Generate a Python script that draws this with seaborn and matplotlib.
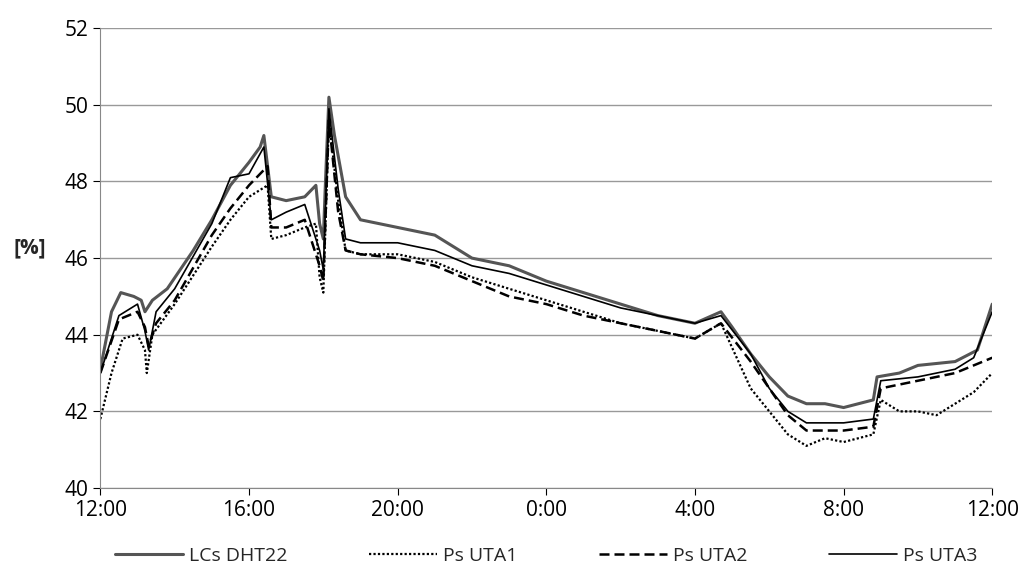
import matplotlib
matplotlib.use("Agg")
import matplotlib.pyplot as plt
import seaborn as sns
import pandas as pd

# hours after 12:00
dht_t = [0, 0.3, 0.55, 0.9, 1.1, 1.2, 1.4, 1.8, 2.5, 3.0, 3.5, 4.0, 4.3, 4.4, 4.6, 5.0, 5.5, 5.8, 5.9, 6.0, 6.05, 6.15, 6.3, 6.6,
         7, 8, 9, 10, 11, 12, 13, 14, 15, 16, 16.7, 17, 17.5, 18, 18.5, 19, 19.5, 20, 20.8, 20.9, 21.5, 22, 23, 23.6, 24]
dht_v = [43.1, 44.6, 45.1, 45.0, 44.9, 44.6, 44.9, 45.2, 46.2, 47.0, 47.9, 48.5, 48.9, 49.2, 47.6, 47.5, 47.6, 47.9, 46.9, 46.5, 47.8, 50.2, 49.2, 47.6,
         47.0, 46.8, 46.6, 46.0, 45.8, 45.4, 45.1, 44.8, 44.5, 44.3, 44.6, 44.2, 43.5, 42.9, 42.4, 42.2, 42.2, 42.1, 42.3, 42.9, 43.0, 43.2, 43.3, 43.6, 44.8]

uta1_t = [0, 0.3, 0.6, 1.0, 1.2, 1.25, 1.4, 2, 3, 3.5, 4.0, 4.5, 4.6, 5, 5.5, 5.8, 5.9, 6.0, 6.15, 6.4, 6.6,
          7, 8, 9, 10, 11, 12, 13, 14, 15, 16, 16.7, 17.5, 18, 18.5, 19, 19.5, 20, 20.8, 21, 21.5, 22, 22.5, 23, 23.5, 24]
uta1_v = [41.8, 43.0, 43.9, 44.0, 43.6, 43.0, 44.0, 44.8, 46.3, 47.0, 47.6, 47.9, 46.5, 46.6, 46.8, 46.9, 45.5, 45.1, 49.6, 47.5, 46.2,
          46.1, 46.1, 45.9, 45.5, 45.2, 44.9, 44.6, 44.3, 44.1, 43.9, 44.3, 42.6, 42.0, 41.4, 41.1, 41.3, 41.2, 41.4, 42.3, 42.0, 42.0, 41.9, 42.2, 42.5, 43.0]

uta2_t = [0, 0.5, 1.0, 1.2, 1.3, 1.5, 2, 3, 3.5, 4, 4.5, 4.6, 5, 5.5, 5.9, 6, 6.15, 6.4, 6.6,
          7, 8, 9, 10, 11, 12, 13, 14, 15, 16, 16.7, 17.5, 18, 18.5, 19, 20, 20.8, 21, 22, 23, 24]
uta2_v = [43.0, 44.4, 44.6, 44.2, 43.7, 44.3, 44.9, 46.6, 47.3, 47.9, 48.4, 46.8, 46.8, 47.0, 45.8, 45.4, 49.6, 47.2, 46.2,
          46.1, 46.0, 45.8, 45.4, 45.0, 44.8, 44.5, 44.3, 44.1, 43.9, 44.3, 43.3, 42.6, 41.9, 41.5, 41.5, 41.6, 42.6, 42.8, 43.0, 43.4]

uta3_t = [0, 0.5, 1, 1.2, 1.3, 1.5, 2, 3, 3.5, 4, 4.4, 4.6, 5, 5.5, 5.9, 6.0, 6.15, 6.4, 6.6,
          7, 8, 9, 10, 11, 12, 13, 14, 15, 16, 16.7, 17.5, 18, 18.5, 19, 20, 20.8, 21, 22, 23, 23.5, 24]
uta3_v = [43.0, 44.5, 44.8, 44.1, 43.6, 44.6, 45.2, 46.9, 48.1, 48.2, 48.9, 47.0, 47.2, 47.4, 46.2, 45.7, 49.9, 47.8, 46.5,
          46.4, 46.4, 46.2, 45.8, 45.6, 45.3, 45.0, 44.7, 44.5, 44.3, 44.5, 43.5, 42.6, 42.0, 41.7, 41.7, 41.8, 42.8, 42.9, 43.1, 43.4, 44.6]

x_ticks = [0, 4, 8, 12, 16, 20, 24]
x_labels = ["12:00", "16:00", "20:00", "0:00", "4:00", "8:00", "12:00"]

sns.set_style("white")
plt.rcParams["font.family"] = ["Open Sans", "DejaVu Sans"]

fig = plt.figure(figsize=(10.24, 5.82), dpi=100)
ax = fig.add_axes([0.098, 0.1615, 0.871, 0.79])

series = [
    ("LCs DHT22", dht_t, dht_v, dict(color="#555555", lw=2.2, ls="-")),
    ("Ps UTA1", uta1_t, uta1_v, dict(color="black", lw=1.6, ls=(0, (1, 1)))),
    ("Ps UTA2", uta2_t, uta2_v, dict(color="black", lw=1.8, ls=(0, (4, 2)))),
    ("Ps UTA3", uta3_t, uta3_v, dict(color="black", lw=1.2, ls="-")),
]
for name, t, v, st in series:
    df = pd.DataFrame({"t": t, "v": v})
    sns.lineplot(data=df, x="t", y="v", ax=ax, label=name, estimator=None, sort=False, **st)

ax.set_xlim(0, 24)
ax.set_ylim(40, 52)
ax.set_yticks(range(40, 53, 2))
ax.set_xticks(x_ticks)
ax.set_xticklabels(x_labels)
ax.yaxis.grid(True, color="#999999", lw=1)
ax.tick_params(labelsize=15, length=5, direction="out", colors="black")
ax.tick_params(axis="both", which="both", bottom=True, left=True)
for s in ["top", "right"]:
    ax.spines[s].set_visible(False)
for s in ["left", "bottom"]:
    ax.spines[s].set_color("#888888")
ax.set_xlabel("")
ax.set_ylabel("[%]", fontsize=15, fontweight="bold", rotation=0, labelpad=25)

ax.legend(loc="upper center", bbox_to_anchor=(0.5, -0.09), ncol=4, frameon=False,
          fontsize=14, handlelength=3.5, handletextpad=0.3, columnspacing=4.2)

fig.savefig("out.png", dpi=100)
